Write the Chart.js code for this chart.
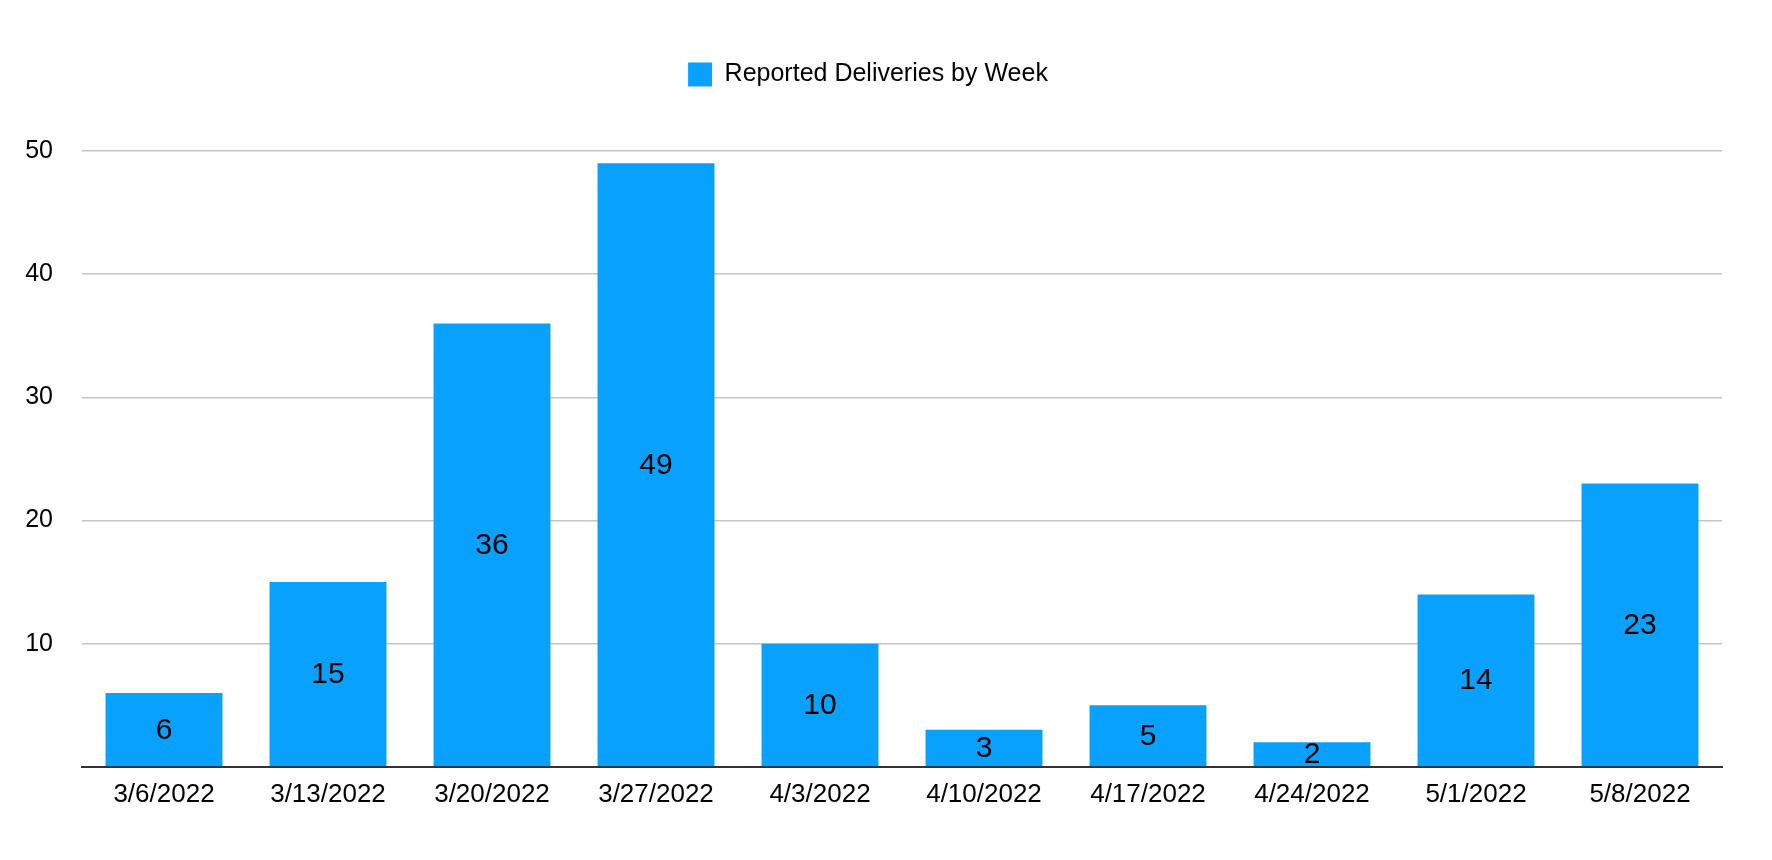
<!DOCTYPE html>
<html>
<head>
<meta charset="utf-8">
<title>Reported Deliveries by Week</title>
<script src="https://cdn.jsdelivr.net/npm/chart.js@4/dist/chart.umd.min.js"></script>
<style>
  html, body { margin: 0; padding: 0; background: #fff; }
  #wrap { width: 1772px; height: 860px; }
</style>
</head>
<body>
<div id="wrap"><canvas id="chart" width="1772" height="860"></canvas></div>
<script>
// ========== data ==========
const weeks = ["3/6/2022", "3/13/2022", "3/20/2022", "3/27/2022", "4/3/2022",
  "4/10/2022", "4/17/2022", "4/24/2022", "5/1/2022", "5/8/2022"];
const deliveries = [6, 15, 36, 49, 10, 3, 5, 2, 14, 23];
const seriesLabel = "Reported Deliveries by Week";
const yTicks = [0, 10, 20, 30, 40, 50];

const FONT = "'Liberation Sans', Arial, Helvetica, sans-serif";
const BAR_BLUE = "#08a1fe";

// value labels in the middle of each bar
const barLabels = {
  id: "barLabels",
  afterDatasetsDraw(chart) {
    const { ctx } = chart;
    const meta = chart.getDatasetMeta(0);
    ctx.save();
    ctx.font = "30px " + FONT;
    ctx.fillStyle = "#000";
    ctx.textAlign = "center";
    ctx.textBaseline = "middle";
    meta.data.forEach((bar, i) => {
      const mid = (bar.y + bar.base) / 2;
      ctx.fillText(String(deliveries[i]), bar.x, mid + 1);
    });
    ctx.restore();
  },
};

// extra room under the legend
const legendGap = {
  id: "legendGap",
  beforeInit(chart) {
    const fit = chart.legend.fit;
    chart.legend.fit = function () {
      fit.call(this);
      this.height += 54;
    };
  },
};

new Chart(document.getElementById("chart"), {
  type: "bar",
  data: {
    labels: weeks,
    datasets: [{
      label: seriesLabel,
      data: deliveries,
      backgroundColor: BAR_BLUE,
      borderWidth: 0,
      barPercentage: 0.713,
      categoryPercentage: 1,
    }],
  },
  options: {
    responsive: false,
    animation: false,
    layout: { padding: { left: 14, right: 50, top: 32, bottom: 38 } },
    plugins: {
      legend: {
        position: "top",
        labels: {
          boxWidth: 24,
          boxHeight: 24,
          padding: 30,
          color: "#000",
          font: { family: FONT, size: 25 },
        },
      },
      tooltip: { enabled: false },
    },
    scales: {
      x: {
        grid: { display: false, drawTicks: false },
        border: { display: true, color: "#333", width: 2 },
        ticks: {
          color: "#000",
          padding: 12,
          maxRotation: 0,
          font: { family: FONT, size: 26 },
        },
      },
      y: {
        min: yTicks[0],
        max: yTicks[yTicks.length - 1],
        afterBuildTicks: (scale) => { scale.ticks = yTicks.map((v) => ({ value: v })); },
        afterFit: (scale) => { scale.width = 68; },
        grid: {
          drawTicks: false,
          color: (c) => (c.tick && c.tick.value === 0 ? "rgba(0,0,0,0)" : "#c6c6c6"),
          lineWidth: 1.5,
        },
        border: { display: false },
        ticks: {
          color: "#000",
          padding: 29,
          font: { family: FONT, size: 25 },
          callback: (v) => (v === 0 ? "" : v),
        },
      },
    },
  },
  plugins: [barLabels, legendGap],
});
</script>
</body>
</html>
